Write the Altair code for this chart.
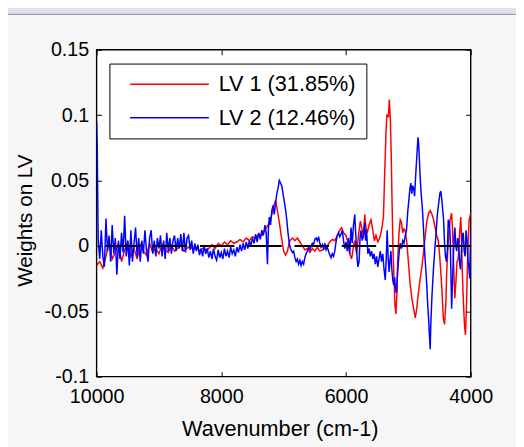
import altair as alt
import pandas as pd

SERIES = ["LV 1 (31.85%)", "LV 2 (12.46%)"]
COLORS = ["#ff0000", "#0000ff"]
X_TICKS = [10000, 8000, 6000, 4000]
Y_TICKS = [-0.1, -0.05, 0, 0.05, 0.1, 0.15]
X_DOMAIN = [4000, 10000]
Y_DOMAIN = [-0.1, 0.15]
ZERO_WN = [10000, 4000]
ZERO_VAL = [0, 0]

RED_WN = [
    10000, 9950, 9900, 9850, 9800, 9750, 9700, 9650, 9600, 9550,
    9500, 9450, 9400, 9350, 9300, 9250, 9200, 9150, 9100, 9050,
    9000, 8950, 8900, 8850, 8800, 8750, 8700, 8650, 8600, 8550,
    8500, 8450, 8400, 8350, 8300, 8250, 8200,
    8150, 8100, 8050, 8000, 7950, 7900, 7850, 7800, 7750, 7700,
    7650, 7600, 7550, 7500, 7450, 7400, 7350, 7300,
    7250, 7200, 7160, 7130, 7100, 7070, 7040, 7000, 6970, 6940,
    6900, 6860, 6820, 6780, 6740, 6700, 6660, 6620, 6580, 6540,
    6500, 6460, 6420, 6380, 6340, 6300, 6260, 6220, 6180, 6140,
    6100, 6070, 6040, 6000,
    5970, 5940, 5910, 5880, 5860, 5830, 5800, 5770, 5740, 5720,
    5700, 5680, 5660, 5630, 5600, 5570, 5545, 5520, 5490, 5460,
    5430, 5400, 5380, 5360, 5345, 5320, 5305, 5290, 5275, 5260,
    5245, 5230, 5215, 5200, 5185, 5170, 5150, 5130, 5110, 5090,
    5070, 5045, 5020, 4995, 4970, 4945, 4915, 4890, 4865, 4840,
    4810, 4780, 4750, 4725, 4700, 4675, 4650, 4620, 4595, 4570,
    4545, 4520, 4500, 4480, 4460, 4440, 4420, 4400, 4385, 4370,
    4350, 4330, 4306, 4290, 4270, 4255, 4240, 4220, 4200, 4180,
    4160, 4150, 4135, 4120, 4100, 4085, 4070, 4055, 4040, 4025,
    4000,
]
RED_VAL = [
    -0.015, -0.012, -0.017, -0.008, 0.004, -0.010, -0.005, 0.002, -0.012, -0.003,
    0.003, -0.008, -0.002, -0.010, 0.001, -0.004, -0.007, 0.002, -0.005, -0.002,
    -0.006, 0.001, -0.003, -0.005, 0.000, -0.004, -0.002, 0.001, -0.004, -0.002,
    0.000, -0.003, -0.001, -0.004, -0.002, -0.003, -0.002,
    0.001, -0.002, 0.002, 0.000, 0.003, 0.001, 0.004, 0.002, 0.003, 0.005,
    0.003, 0.006, 0.004, 0.007, 0.006, 0.009, 0.008, 0.012,
    0.016, 0.022, 0.030, 0.035, 0.027, 0.018, 0.008, -0.004, -0.007, -0.004,
    0.004, 0.006, 0.004, 0.006, 0.003, 0.000, -0.003, -0.002, -0.005, -0.002,
    -0.004, -0.001, -0.004, -0.003, -0.002, 0.000, 0.003, 0.005, 0.004, 0.008,
    0.012, 0.014, 0.010, 0.008,
    0.003, -0.006, -0.010, 0.000, 0.004, -0.006, 0.008, 0.019, 0.012, 0.006,
    0.024, 0.014, 0.010, 0.016, 0.020, 0.012, 0.004, 0.008, 0.003, 0.006,
    0.012, 0.022, 0.055, 0.085, 0.100, 0.099, 0.112, 0.098, 0.070, 0.030,
    -0.005, -0.025, -0.045, -0.052, -0.038, -0.010, 0.010, 0.020, 0.018, 0.010,
    0.013, 0.011, 0.000, -0.015, -0.030, -0.040, -0.048, -0.055, -0.048, -0.036,
    -0.025, -0.015, -0.002, 0.010, 0.020, 0.025, 0.027, 0.024, 0.020, 0.014,
    0.008, 0.004, -0.006, -0.020, -0.035, -0.055, -0.060, -0.045, -0.020, -0.005,
    0.010, 0.020, 0.025, 0.010, -0.020, -0.040, -0.030, -0.012, -0.010, 0.008,
    0.022, 0.010, -0.020, -0.040, -0.060, -0.068, -0.050, -0.020, 0.005, 0.020,
    0.025,
]

BLUE_WN = [
    10000, 9990, 9975, 9950, 9925, 9900, 9875, 9850, 9825, 9800,
    9775, 9750, 9725, 9700, 9675, 9650, 9625, 9600, 9575, 9550,
    9525, 9500, 9475, 9450, 9425, 9400, 9375, 9350, 9325, 9300,
    9275, 9250, 9225, 9200, 9175, 9150, 9125, 9100, 9075, 9050,
    9025, 9000, 8975, 8950, 8925, 8900, 8875, 8850, 8825, 8800,
    8775, 8750, 8725, 8700, 8675, 8650, 8625, 8600, 8575, 8550,
    8525, 8500, 8475, 8450, 8425, 8400, 8375, 8350, 8325, 8300,
    8275, 8250, 8225, 8200,
    8175, 8150, 8125, 8100, 8075, 8050, 8025, 8000, 7975, 7950,
    7925, 7900, 7875, 7850, 7825, 7800, 7775, 7750, 7725, 7700,
    7675, 7650, 7625, 7600, 7575, 7550, 7525, 7500, 7475, 7450,
    7425, 7400, 7375, 7350, 7325, 7300,
    7280, 7260, 7245, 7230, 7210, 7190, 7170, 7150, 7130, 7110,
    7090, 7070, 7050, 7030, 7010, 6990, 6970, 6950, 6930, 6910,
    6890, 6860, 6840, 6820, 6800, 6780, 6760, 6740, 6720, 6700,
    6680, 6660, 6640, 6620, 6600, 6580, 6560, 6540, 6520, 6500,
    6480, 6460, 6440, 6420, 6400, 6380, 6360, 6340, 6320, 6300,
    6280, 6260, 6240, 6220, 6200, 6180, 6160, 6140, 6120, 6100,
    6080, 6060, 6040, 6020, 6000,
    5980, 5960, 5940, 5920, 5900, 5880, 5860, 5845, 5830, 5810,
    5790, 5775, 5760, 5740, 5720, 5700, 5685, 5670, 5650, 5630,
    5610, 5590, 5570, 5550, 5530, 5510, 5490, 5470, 5450, 5430,
    5410, 5390, 5370, 5355, 5340, 5325, 5310, 5295, 5280, 5265,
    5250, 5235, 5220, 5205, 5190, 5175, 5160, 5145, 5130, 5110,
    5090, 5070, 5050, 5030, 5010, 4990, 4975, 4960, 4945, 4930,
    4915, 4900, 4885, 4870, 4855, 4845, 4835, 4825, 4810, 4795,
    4780, 4765, 4750, 4735, 4720, 4705, 4690, 4675, 4660, 4650,
    4640, 4625, 4610, 4595, 4575, 4555, 4535, 4515, 4495, 4480,
    4465, 4450, 4435, 4420, 4405, 4390, 4375, 4360, 4345, 4330,
    4318, 4306, 4294, 4280, 4265, 4254, 4240, 4225, 4210, 4195,
    4180, 4165, 4150, 4135, 4120, 4105, 4090, 4075, 4060, 4045,
    4030, 4016, 4008, 4000,
]
BLUE_VAL = [
    0.095, 0.077, 0.005, -0.010, 0.012, -0.008, -0.016, 0.021, -0.004, 0.008,
    -0.012, 0.016, -0.006, 0.006, -0.022, 0.004, -0.010, 0.010, -0.005, 0.023,
    -0.008, 0.004, -0.015, 0.012, -0.012, 0.002, 0.014, -0.008, 0.006, -0.012,
    0.004, -0.006, 0.012, -0.004, -0.012, 0.006, 0.012, -0.006, 0.004, -0.008,
    0.006, -0.002, 0.008, -0.008, 0.004, -0.010, 0.010, -0.004, 0.006, -0.006,
    0.004, 0.008, -0.004, 0.006, -0.002, 0.009, -0.004, 0.010, -0.005, 0.006,
    0.008, -0.003, 0.004, -0.006, 0.002, -0.004, 0.001, -0.007, -0.002, -0.008,
    0.000, -0.006, -0.002, -0.009,
    -0.004, -0.010, -0.002, -0.008, -0.011, -0.003, -0.009, -0.005, -0.010, -0.002,
    -0.008, -0.004, -0.009, -0.001, -0.006, -0.003, -0.008, -0.001, -0.005, 0.001,
    -0.004, 0.002, -0.003, 0.003, -0.002, 0.004, 0.000, 0.006, 0.002, 0.009,
    0.003, 0.010, 0.005, 0.012, 0.008, 0.016,
    0.010, -0.014, 0.012, 0.022, 0.016, 0.027, 0.031, 0.024, 0.033, 0.040,
    0.044, 0.050, 0.048, 0.046, 0.040, 0.034, 0.028, 0.020, 0.010, 0.002,
    -0.002, -0.005, -0.004, -0.009, -0.012, -0.010, -0.014, -0.011, -0.015, -0.012,
    -0.014, -0.009, -0.006, -0.004, -0.001, -0.003, 0.000, 0.002, 0.001, 0.005,
    0.006, 0.004, 0.007, 0.002, -0.001, 0.001, -0.002, 0.002, -0.003, -0.001,
    -0.004, -0.007, -0.009, -0.006, -0.008, -0.004, 0.003, 0.008, 0.010, 0.007,
    0.009, 0.012, 0.004, -0.002, 0.003,
    -0.004, 0.006, -0.006, 0.014, 0.002, 0.016, 0.024, 0.010, -0.004, -0.016,
    -0.012, 0.006, 0.012, 0.004, 0.008, 0.018, 0.004, 0.012, -0.006, -0.002,
    -0.008, -0.004, -0.010, -0.006, -0.014, -0.008, -0.016, -0.010, -0.004, -0.012,
    -0.006, -0.018, -0.026, -0.010, 0.012, -0.008, -0.020, -0.012, -0.004, -0.018,
    -0.026, -0.030, -0.024, -0.034, -0.036, -0.022, -0.012, -0.004, 0.002, -0.002,
    0.004, 0.002, 0.008, 0.012, 0.026, 0.036, 0.044, 0.048, 0.040, 0.046,
    0.044, 0.038, 0.052, 0.064, 0.076, 0.083, 0.078, 0.068, 0.052, 0.040,
    0.032, 0.020, 0.006, -0.008, -0.018, -0.030, -0.045, -0.056, -0.070, -0.079,
    -0.060, -0.042, -0.028, -0.016, -0.002, 0.010, 0.024, 0.032, 0.040, 0.042,
    0.036, 0.028, 0.020, 0.002, -0.008, -0.012, -0.004, 0.020, 0.018, 0.008,
    -0.020, -0.048, -0.030, -0.010, 0.008, 0.014, 0.000, -0.004, 0.006, 0.004,
    -0.012, -0.018, -0.006, 0.008, 0.010, -0.004, -0.008, 0.012, 0.004, -0.010,
    -0.016, -0.025, -0.005, 0.010,
]

assert len(RED_WN) == len(RED_VAL), (len(RED_WN), len(RED_VAL))
assert len(BLUE_WN) == len(BLUE_VAL), (len(BLUE_WN), len(BLUE_VAL))

red_df = pd.DataFrame({"wn": RED_WN, "w": RED_VAL, "series": SERIES[0]})
blue_df = pd.DataFrame({"wn": BLUE_WN, "w": BLUE_VAL, "series": SERIES[1]})
zero_df = pd.DataFrame({"wn": ZERO_WN, "w": ZERO_VAL})
one = pd.DataFrame({"k": [0]})

W, H = 380, 332
FONT = "Liberation Sans"

xscale = alt.Scale(domain=X_DOMAIN, reverse=True, nice=False, zero=False)
yscale = alt.Scale(domain=Y_DOMAIN, nice=False, zero=False)

legend = alt.Legend(
    orient="none", legendX=13, legendY=14, symbolType="M0,0H16", symbolSize=100,
    symbolStrokeWidth=1.5, labelOffset=79, labelFontSize=22, labelFont=FONT,
    labelColor="black", padding=10, rowPadding=12, strokeColor="black",
    fillColor="white", labelLimit=400, zindex=2,
)
color = alt.Color("series:N", scale=alt.Scale(domain=SERIES, range=COLORS),
                  title=None, legend=legend)

tick_common = dict(labels=False, domain=False, grid=False, ticks=True, tickSize=5,
                   tickColor="black", tickWidth=1, title=None, zindex=1)

panel = alt.Chart(one).mark_rect(fill="#f6f6f6", stroke="#8a8a8a", strokeWidth=1).encode(
    x=alt.value(-91), x2=alt.value(440), y=alt.value(-36), y2=alt.value(420)
)

plotbg = alt.Chart(one).mark_rect(fill="white", stroke="black", strokeWidth=1.4).encode(
    x=alt.XDatum(X_DOMAIN[1], scale=xscale, axis=None),
    x2=alt.X2Datum(X_DOMAIN[0]),
    y=alt.YDatum(Y_DOMAIN[0], scale=yscale, axis=None),
    y2=alt.Y2Datum(Y_DOMAIN[1]),
)

red = alt.Chart(red_df).mark_line(strokeWidth=1.5, clip=True).encode(
    x=alt.X("wn:Q", scale=xscale, axis=alt.Axis(
        orient="bottom", values=X_TICKS, format="d", ticks=False, domain=False, grid=False,
        labelPadding=10, labelFontSize=20, labelFont=FONT, labelColor="black",
        labelFlush=False, labelOverlap=False,
        title="Wavenumber (cm-1)", titleFont=FONT, titleFontSize=22,
        titleFontWeight="normal", titleColor="black", titleX=186, titleY=43, zindex=1)),
    y=alt.Y("w:Q", scale=yscale, axis=alt.Axis(
        orient="left", values=Y_TICKS, labelExpr="datum.value + ''", ticks=False,
        domain=False, grid=False, labelPadding=8, labelFontSize=20, labelFont=FONT,
        labelColor="black", labelOverlap=False,
        title="Weights on LV", titleFont=FONT, titleFontSize=21, titleFontWeight="normal",
        titleColor="black", titleX=-62, titleY=173, zindex=1)),
    color=color,
)

blue = alt.Chart(blue_df).mark_line(strokeWidth=1.5, clip=True).encode(
    x=alt.X("wn:Q", scale=xscale, axis=alt.Axis(orient="top", offset=-H, values=X_TICKS, **tick_common)),
    y=alt.Y("w:Q", scale=yscale, axis=alt.Axis(orient="right", offset=-W, values=Y_TICKS, **tick_common)),
    color=color,
)

zero = alt.Chart(zero_df).mark_line(color="black", strokeWidth=2, strokeDash=[35, 13],
                                    strokeDashOffset=39, order=False).encode(
    x=alt.X("wn:Q", scale=xscale,
            axis=alt.Axis(orient="bottom", offset=-H, values=X_TICKS, **tick_common)),
    y=alt.Y("w:Q", scale=yscale,
            axis=alt.Axis(orient="left", offset=-W, values=Y_TICKS, **tick_common)),
)

chart = alt.layer(panel, plotbg, red, blue, zero).resolve_axis(
    x="independent", y="independent"
).properties(
    width=W, height=H,
    padding={"left": 90, "top": 39, "right": 46, "bottom": 68},
    autosize=alt.AutoSizeParams(type="none"),
    background="#dfe3f1",
).configure_view(strokeWidth=0)

chart.save("out.html", embed_options={"renderer": "svg", "actions": False})
